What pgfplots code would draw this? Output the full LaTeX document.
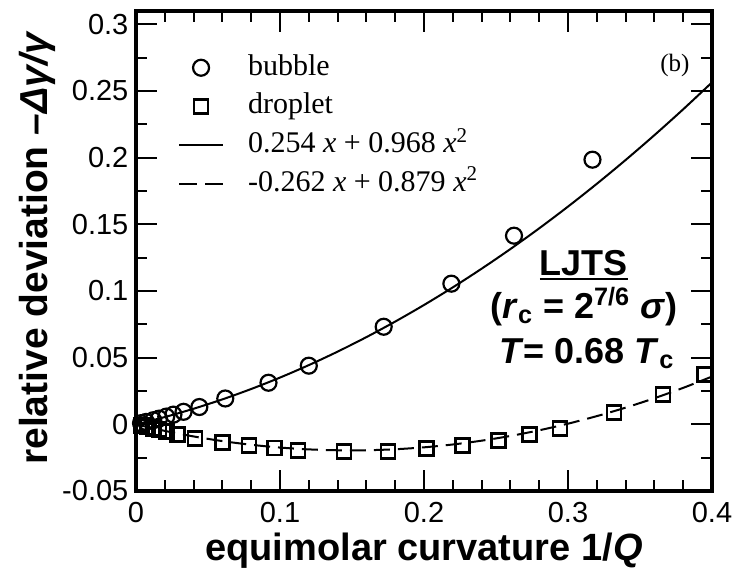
\documentclass[border=0pt]{standalone}
\usepackage{fontspec}
\setmainfont{Liberation Sans}
\newfontfamily\serif{Liberation Serif}
\usepackage{graphicx}
\usepackage{pgfplots}
\usepackage{pgfplotstable}
\pgfplotsset{compat=1.18}

\newcommand\ulbox[1]{\setbox0=\hbox{#1}\rlap{\rule[-2.6pt]{\wd0}{1.2pt}}\box0}

\pgfplotsset{
  markleg/.style={legend image code/.code={\path (0pt,0pt) (22pt,0pt); \draw[##1] plot coordinates {(11pt,0pt)};}},
  lineleg/.style={legend image code/.code={\draw[##1] (0pt,0pt) -- (22pt,0pt);}},
  dashleg/.style={legend image code/.code={\draw[##1, dash pattern=on 9pt off 4pt] (0pt,0pt) -- (22pt,0pt);}},
}

\pgfplotstableread{
x y
0.0035 0.0009
0.007 0.0018
0.012 0.0031
0.016 0.0043
0.021 0.0058
0.026 0.0073
0.033 0.0094
0.044 0.0130
0.062 0.0194
0.092 0.0312
0.120 0.0440
0.172 0.0732
0.219 0.1055
0.2625 0.1415
0.317 0.1985
}\bubble

\pgfplotstableread{
x y
0.004 -0.0010
0.008 -0.0020
0.012 -0.0031
0.016 -0.0041
0.021 -0.0052
0.029 -0.0078
0.041 -0.0106
0.060 -0.0134
0.0785 -0.0158
0.096 -0.0178
0.1125 -0.0196
0.1445 -0.0206
0.175 -0.0206
0.202 -0.0180
0.2265 -0.0158
0.2515 -0.0120
0.2735 -0.0075
0.2945 -0.0030
0.332 0.0090
0.366 0.0225
0.395 0.0375
}\droplet

\pgfplotstableread{
x y
0 0
0.02 0.00547
0.04 0.01171
0.06 0.01872
0.08 0.02652
0.10 0.03508
0.12 0.04442
0.14 0.05453
0.16 0.06542
0.18 0.07708
0.20 0.08952
0.22 0.10273
0.24 0.11672
0.26 0.13148
0.28 0.14701
0.30 0.16332
0.32 0.18040
0.34 0.19826
0.36 0.21689
0.38 0.23630
0.40 0.25648
}\bubblefit

\pgfplotstableread{
x y
0 0
0.02 -0.00489
0.04 -0.00907
0.06 -0.01256
0.08 -0.01533
0.10 -0.01741
0.12 -0.01878
0.14 -0.01945
0.16 -0.01942
0.18 -0.01868
0.20 -0.01724
0.22 -0.01510
0.24 -0.01225
0.26 -0.00870
0.28 -0.00445
0.30 0.00051
0.32 0.00617
0.34 0.01253
0.36 0.01960
0.38 0.02737
0.40 0.03584
}\dropletfit

\begin{document}
\begin{tikzpicture}
\useasboundingbox (-68pt,-39.5pt) rectangle (303pt,245.5pt);
\begin{axis}[
  at={(0pt,0pt)}, anchor=south west,
  scale only axis, width=288pt, height=240pt,
  xmin=0, xmax=0.4, ymin=-0.05, ymax=0.31,
  xtick={0,0.1,0.2,0.3,0.4}, xticklabels={0,0.1,0.2,0.3,0.4},
  ytick={-0.05,0,0.05,0.1,0.15,0.2,0.25,0.3},
  yticklabels={-0.05,0,0.05,0.1,0.15,0.2,0.25,0.3},
  minor x tick num=4, minor y tick num=1,
  tick align=inside,
  major tick length=10.5pt, minor tick length=5.5pt,
  every tick/.style={line width=1pt, black},
  axis line style={line width=1.8pt},
  tick label style={font=\fontsize{14.5}{17}\selectfont},
  xticklabel style={yshift=-2pt},
  yticklabel style={xshift=-0.3pt},
  xlabel={equimolar curvature 1/\textit{Q}},
  ylabel={relative deviation \textit{–Δγ/γ}},
  xlabel style={font=\bfseries\fontsize{19}{22}\selectfont, at={(axis description cs:0.5,-0.1458)}, anchor=base},
  ylabel style={font=\bfseries\fontsize{19.5}{22}\selectfont, at={(axis description cs:-0.1528,0.506)}, anchor=base},
  legend style={draw=none, fill=none, inner sep=0pt, outer sep=0pt,
    at={(axis description cs:0.073,0.912)}, anchor=north west,
    row sep=4.85pt,
    nodes={inner sep=0pt, text height=11pt, text depth=3.5pt},
    /tikz/column 1/.style={column sep=12pt},
    font=\serif\fontsize{15}{17}\selectfont},
  legend cell align=left,
]
\addplot[only marks, mark=o, mark size=4pt, mark options={line width=1.1pt}, markleg]
  table {\bubble};
\addlegendentry{bubble}
\addplot[only marks, mark=square, mark size=3.5pt, mark options={line width=1.4pt}, markleg]
  table {\droplet};
\addlegendentry{droplet}
\addplot[line width=1pt, smooth, no marks, lineleg]
  table {\bubblefit};
\addlegendentry{0.254 \textit{x} + 0.968 \textit{x}\textsuperscript{2}}
\addplot[line width=1pt, smooth, no marks, dash pattern=on 8pt off 4pt, dashleg]
  table {\dropletfit};
\addlegendentry{-0.262 \textit{x} + 0.879 \textit{x}\textsuperscript{2}}

\node[font=\serif\fontsize{12.5}{15}\selectfont] at (axis cs:0.3743,0.2693) {(b)};
\node[anchor=base, font=\bfseries\fontsize{18}{21}\selectfont] at (axis cs:0.311,0.1118) {\ulbox{LJTS}};
\node[anchor=base, font=\bfseries\fontsize{18}{21}\selectfont] at (axis cs:0.311,0.0795) {(\textit{r}\textsubscript{c} = 2\textsuperscript{7/6} \textit{σ})};
\node[anchor=base, font=\bfseries\fontsize{18}{21}\selectfont] at (axis cs:0.313,0.0458) {\textit{T}= 0.68 \textit{T}\textsubscript{c}};
\end{axis}
\end{tikzpicture}
\end{document}
